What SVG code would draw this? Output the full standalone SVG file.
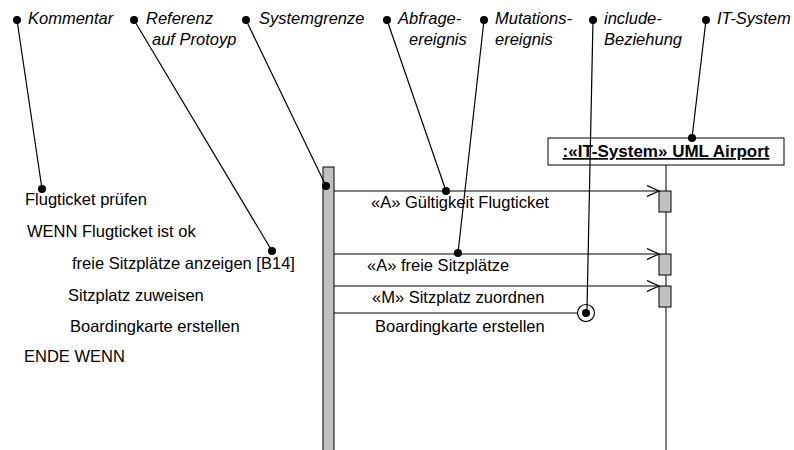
<svg xmlns="http://www.w3.org/2000/svg" width="794" height="450" viewBox="0 0 794 450">
<style>
.t{font-family:"Liberation Sans",Arial,sans-serif;font-size:16.5px;fill:#000}
.i{font-style:italic}
.b{font-weight:bold;font-size:17px}
.ln{stroke:#000;stroke-width:1.2;fill:none}
.dot{fill:#000}
.act{fill:#c0c0c0;stroke:#000;stroke-width:1}
</style>
<defs>
<marker id="open" markerWidth="14" markerHeight="12" refX="12" refY="6" orient="auto" markerUnits="userSpaceOnUse">
<path d="M0,0.5 L12,6 L0,11.5" fill="none" stroke="#000" stroke-width="1.2"/>
</marker>
</defs>
<rect width="794" height="450" fill="#fff"/>

<g id="system-boundary">
<rect x="323" y="167" width="11" height="290" class="act"/>
</g>

<g id="it-system">
<line x1="666" y1="165" x2="666" y2="450" stroke="#000" stroke-width="1"/>
<rect x="548" y="138" width="236" height="27" fill="#fff" stroke="#000" stroke-width="1"/>
<text x="666" y="157" text-anchor="middle" class="t b" text-decoration="underline">:«IT-System» UML Airport</text>
<rect x="659" y="191" width="12" height="21" class="act"/>
<rect x="659" y="254" width="12" height="21" class="act"/>
<rect x="659" y="286" width="12" height="21" class="act"/>
</g>

<g id="messages">
<line x1="334" y1="191" x2="659" y2="191" class="ln" marker-end="url(#open)"/>
<line x1="334" y1="254" x2="659" y2="254" class="ln" marker-end="url(#open)"/>
<line x1="334" y1="286" x2="659" y2="286" class="ln" marker-end="url(#open)"/>
<line x1="334" y1="313" x2="578" y2="313" class="ln"/>
<circle cx="586" cy="313" r="8.5" fill="#fff" stroke="#000" stroke-width="1.2"/>
<circle cx="586" cy="313" r="4" class="dot"/>
<text x="371" y="208" class="t">«A» Gültigkeit Flugticket</text>
<text x="367" y="271" class="t">«A» freie Sitzplätze</text>
<text x="372" y="303" class="t">«M» Sitzplatz zuordnen</text>
<text x="375" y="332" class="t">Boardingkarte erstellen</text>
</g>

<g id="scenario">
<text x="25" y="205" class="t">Flugticket prüfen</text>
<text x="27" y="237" class="t">WENN Flugticket ist ok</text>
<text x="72" y="269" class="t">freie Sitzplätze anzeigen [B14]</text>
<text x="68" y="301" class="t">Sitzplatz zuweisen</text>
<text x="70" y="332" class="t">Boardingkarte erstellen</text>
<text x="24" y="362" class="t">ENDE WENN</text>
</g>

<g id="annotations">
<line x1="17" y1="20" x2="42" y2="189" class="ln"/>
<circle cx="17" cy="20" r="4" class="dot"/><circle cx="42" cy="189" r="4" class="dot"/>
<text x="28" y="24" class="t i">Kommentar</text>

<line x1="134" y1="20" x2="272" y2="251" class="ln"/>
<circle cx="134" cy="20" r="4" class="dot"/><circle cx="272" cy="251" r="4" class="dot"/>
<text x="146" y="24" class="t i">Referenz</text>
<text x="152" y="45" class="t i">auf Protoyp</text>

<line x1="246" y1="20" x2="326" y2="186" class="ln"/>
<circle cx="246" cy="20" r="4" class="dot"/><circle cx="326" cy="186" r="4" class="dot"/>
<text x="259" y="24" class="t i">Systemgrenze</text>

<line x1="387" y1="20" x2="446" y2="191" class="ln"/>
<circle cx="387" cy="20" r="4" class="dot"/><circle cx="446" cy="191" r="4" class="dot"/>
<text x="398" y="24" class="t i">Abfrage-</text>
<text x="409" y="45" class="t i">ereignis</text>

<line x1="484" y1="20" x2="458" y2="253" class="ln"/>
<circle cx="484" cy="20" r="4" class="dot"/><circle cx="458" cy="253" r="4" class="dot"/>
<text x="495" y="24" class="t i">Mutations-</text>
<text x="495" y="45" class="t i">ereignis</text>

<line x1="593" y1="20" x2="587" y2="309" class="ln"/>
<circle cx="593" cy="20" r="4" class="dot"/>
<text x="604" y="24" class="t i">include-</text>
<text x="604" y="45" class="t i">Beziehung</text>

<line x1="706" y1="20" x2="692" y2="138" class="ln"/>
<circle cx="706" cy="20" r="4" class="dot"/><circle cx="692" cy="138" r="4" class="dot"/>
<text x="717" y="24" class="t i">IT-System</text>
</g>
</svg>
